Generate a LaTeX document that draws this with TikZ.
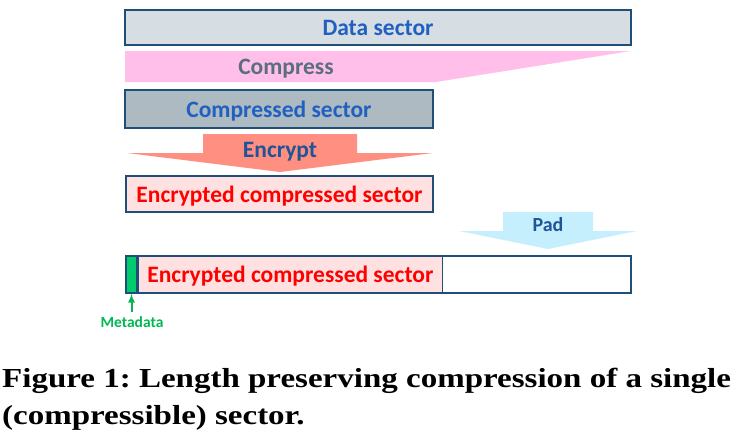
\documentclass[tikz,border=0pt]{standalone}
\usepackage{fontspec}
\setmainfont{Carlito}
\newfontfamily\capfont[FakeStretch=1.2]{Liberation Serif}
\usetikzlibrary{positioning}

\definecolor{sectline}{HTML}{1F4E79}
\definecolor{datafill}{HTML}{D6DEE4}
\definecolor{compfill}{HTML}{ADBAC1}
\definecolor{compressfill}{HTML}{FFBFEA}
\definecolor{encryptfill}{HTML}{FF8F80}
\definecolor{encfill}{HTML}{FFE1E1}
\definecolor{padfill}{HTML}{C5EFFD}
\definecolor{metafill}{HTML}{00CC6E}
\definecolor{metatext}{HTML}{00B852}
\definecolor{labblue}{HTML}{2060C0}
\definecolor{labdark}{HTML}{1F5597}
\definecolor{labgray}{HTML}{5B6E7F}

\begin{document}
\begin{tikzpicture}[x=1pt,y=-1pt]
   \tikzstyle{sect}=[draw=sectline,line width=1.4pt,inner sep=0pt,text depth=0pt,font=\bfseries\fontsize{23.5}{26}\selectfont]
   \tikzstyle{lab}=[inner sep=0pt,text depth=0pt,font=\bfseries\fontsize{23.5}{26}\selectfont]
   \tikzstyle{small}=[inner sep=0pt,font=\bfseries\fontsize{20}{22}\selectfont]
   \tikzstyle{captext}=[inner sep=0pt,anchor=base west,font=\capfont\bfseries\fontsize{27.5}{30}\selectfont\frenchspacing]

   \useasboundingbox (0,0) rectangle (739,437);

   % data sector
   \node (data) [sect,fill=datafill,text=labblue,minimum width=506pt,minimum height=35pt] at (378,27.5) {Data sector};

   % compress
   \fill [compressfill] (125,51) -- (631,51) -- (436,82) -- (125,82) -- cycle;
   \node (compress) [lab,text=labgray] at (286,67) {Compress};

   % compressed sector
   \node (comp) [sect,fill=compfill,text=labblue,minimum width=308pt,minimum height=38pt] at (279,109) {Compressed sector};

   % encrypt
   \fill [encryptfill] (203,134) -- (357,134) -- (357,153) -- (433,153) -- (280,172) -- (127,153) -- (203,153) -- cycle;
   \node (encrypt) [lab,text=labdark] at (280,150) {Encrypt};

   % encrypted sector
   \node (enc) [sect,fill=encfill,text=red,minimum width=307pt,minimum height=36pt] at (279.5,194) {Encrypted compressed sector};

   % pad
   \fill [padfill] (503,212) -- (593,212) -- (593,231) -- (637,231) -- (548,249) -- (459,231) -- (503,231) -- cycle;
   \node (pad) [small,text=labdark] at (548,225) {Pad};

   % padded sector
   \node (padded) [sect,minimum width=505pt,minimum height=37pt] at (378.5,274.5) {};
   \node (meta) [sect,fill=metafill,minimum width=11pt,minimum height=37pt,anchor=west] at (padded.west) {};
   \node (encpad) [sect,fill=encfill,text=red,minimum width=304pt,minimum height=37pt,anchor=west] at (meta.east) {Encrypted compressed sector};

   % metadata label
   \node (metalab) [inner sep=0pt,text=metatext,font=\bfseries\fontsize{15.5}{17}\selectfont] at (132,322) {Metadata};
   \draw [metatext,line width=2pt,-latex] (metalab.north -| meta.south) ++(0,-4) coordinate (metatail) -- (meta.south);

   % caption
   \node (cap1) [captext] at (2,387) {Figure 1: Length preserving compression of a single};
   \node (cap2) [captext] at (2,424) {(compressible) sector.};
\end{tikzpicture}
\end{document}
